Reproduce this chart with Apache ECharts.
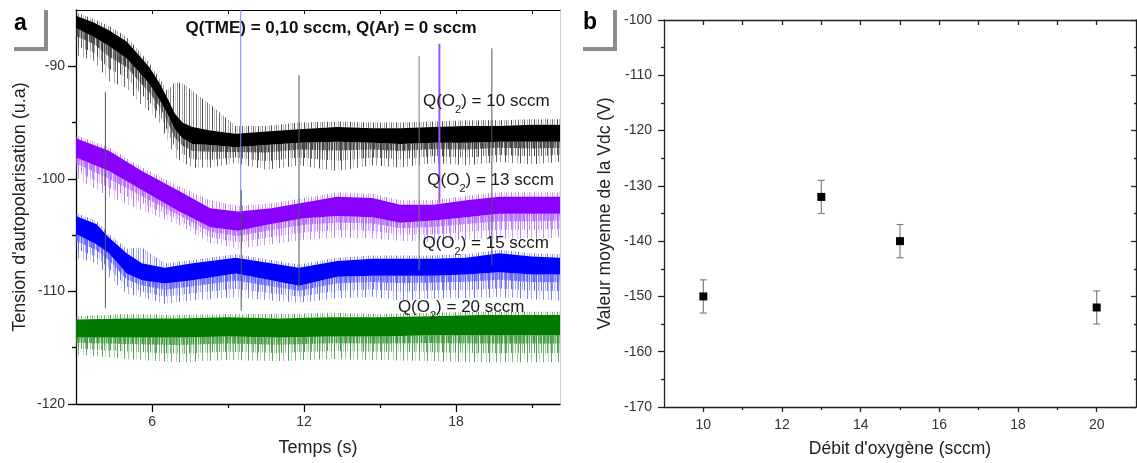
<!DOCTYPE html>
<html><head><meta charset="utf-8">
<script src="https://cdn.jsdelivr.net/npm/echarts@6/dist/echarts.min.js"></script>
<style>html,body{margin:0;padding:0;background:#fff}#c{width:1137px;height:463px}</style>
</head><body><div id="c"></div>
<script>
// ---------- Panel a : bias voltage vs time (envelopes) ----------
const tBlack   = [3.0, 3.7, 4.3, 5.0, 5.6, 5.9, 6.3, 6.6, 6.9, 7.2, 7.6, 8.3, 9.3, 10.5, 11.8, 13.3, 14.7, 15.8, 17.1, 18.4, 19.7, 21.0, 22.1];
const blackHi  = [-85.2, -85.8, -86.4, -87.4, -88.9, -89.7, -91.1, -92.2, -91.4, -91.5, -92.2, -93.4, -95.3, -95.3, -95.0, -94.9, -95.0, -95.0, -94.9, -94.8, -94.8, -94.7, -94.7];
const blackTop = [-85.5, -86.1, -86.8, -87.8, -89.3, -90.1, -91.5, -92.8, -94.2, -95.0, -95.4, -95.7, -96.0, -95.8, -95.6, -95.4, -95.5, -95.5, -95.4, -95.3, -95.3, -95.2, -95.2];
const blackBot = [-86.6, -87.4, -88.2, -89.3, -90.8, -91.6, -93.0, -94.2, -95.6, -96.4, -96.9, -97.0, -97.2, -97.0, -96.8, -96.7, -96.8, -96.9, -96.8, -96.8, -96.7, -96.7, -96.7];
const blackLow = [-89.0, -89.5, -91.3, -91.9, -93.5, -94.0, -95.0, -96.5, -98.1, -98.5, -99.0, -99.0, -98.6, -99.2, -98.8, -99.3, -98.8, -99.0, -98.6, -98.8, -98.5, -98.7, -98.5];

const tPurple   = [3.0, 4.3, 5.6, 7.0, 8.3, 9.4, 10.7, 12.0, 13.3, 14.7, 15.8, 17.1, 18.4, 19.7, 21.0, 22.1];
const purpleHi  = [-96.1, -97.2, -99.0, -100.6, -101.9, -102.4, -102.2, -101.7, -101.2, -101.3, -101.9, -101.9, -101.5, -101.2, -101.2, -101.2];
const purpleTop = [-96.4, -97.5, -99.3, -101.0, -102.6, -102.9, -102.6, -102.1, -101.6, -101.7, -102.3, -102.3, -101.9, -101.6, -101.6, -101.6];
const purpleBot = [-98.1, -99.3, -101.0, -102.8, -104.3, -104.6, -104.0, -103.5, -103.3, -103.4, -103.9, -103.7, -103.4, -103.1, -103.1, -103.1];
const purpleLow = [-99.9, -101.6, -102.8, -104.0, -105.7, -106.2, -105.8, -105.4, -105.2, -105.3, -105.5, -105.6, -105.4, -105.3, -105.3, -105.2];

const tBlue   = [3.0, 3.8, 4.3, 5.0, 5.6, 6.5, 7.6, 9.3, 10.7, 11.8, 13.3, 14.7, 15.8, 17.1, 18.4, 19.7, 21.0, 22.1];
const blueHi  = [-103.0, -103.7, -104.9, -106.2, -106.1, -107.5, -107.2, -106.7, -107.2, -107.6, -107.0, -106.8, -106.8, -106.8, -106.7, -106.3, -106.6, -106.7];
const blueTop = [-103.3, -104.0, -105.2, -106.6, -107.5, -107.9, -107.5, -107.0, -107.5, -107.9, -107.3, -107.1, -107.1, -107.1, -107.0, -106.6, -106.9, -107.0];
const blueBot = [-104.9, -105.8, -106.6, -108.4, -109.0, -109.3, -109.0, -108.4, -109.0, -109.5, -108.7, -108.6, -108.6, -108.6, -108.5, -108.3, -108.5, -108.5];
const blueLow = [-107.0, -107.5, -108.7, -110.2, -110.5, -111.1, -110.8, -110.5, -110.8, -111.0, -110.6, -110.5, -110.8, -110.6, -110.6, -110.5, -110.7, -110.8];

const tGreen   = [3, 5, 7, 9, 11, 13, 15, 17, 19, 21, 22.1];
const greenHi  = [-112.2, -112.0, -112.1, -112.0, -112.0, -111.9, -112.0, -111.9, -111.8, -111.8, -111.8];
const greenTop = [-112.5, -112.4, -112.4, -112.3, -112.4, -112.3, -112.3, -112.2, -112.1, -112.1, -112.1];
const greenBot = [-114.1, -114.1, -114.1, -114.0, -114.1, -114.0, -114.0, -113.9, -113.9, -113.9, -113.9];
const greenLow = [-115.6, -116.0, -116.3, -116.1, -116.2, -116.0, -116.1, -116.2, -116.3, -116.3, -116.3];

// vertical event markers (time, upper value, lower value)
const markT      = [4.16, 9.5, 9.52, 11.8, 16.54, 17.34, 19.41];
const markTop    = [-92.3, -85.0, -101.0, -90.8, -89.1, -88.0, -88.4];
const markBottom = [-111.5, -103.0, -111.7, -109.6, -108.1, -102.2, -107.7];

// trace labels
const labelFlow = ['10', '13', '15', '20'];
const labelT    = [19.19, 19.36, 19.17, 18.2];
const labelV    = [-93.1, -100.1, -105.7, -111.4];

const xTicksA = [6, 12, 18];
const xMinorA = [9, 15, 21];
const yTicksA = [-120, -110, -100, -90];
const yMinorA = [-115, -105, -95];

// ---------- Panel b : mean Vdc vs oxygen flow ----------
const flowRate = [10, 13, 15, 20];
const vdcMean  = [-150, -132, -140, -152];
const vdcErr   = [3, 3, 3, 3];

const xTicksB = [10, 12, 14, 16, 18, 20];
const xMinorB = [11, 13, 15, 17, 19];
const yTicksB = [-170, -160, -150, -140, -130, -120, -110, -100];
const yMinorB = [-165, -155, -145, -135, -125, -115, -105];

// ---------- styles ----------
const FONT = '"Liberation Sans", Arial, sans-serif';
const markColors = ['#555', '#7585ff', '#555', '#555', '#777', '#a050ff', '#555'];
const markWidths = [1, 1, 1, 1, 1, 2, 1];
// stripe textures (column opacities) used to render the noisy fringe of the traces
const outerStripes = [0.8, 0, 0, 0, 0.5, 0, 0, 0, 0, 0.9, 0, 0, 0.3, 0, 0, 0, 0.7, 0, 0, 0, 0, 0.4, 0, 0, 0.85, 0, 0, 0, 0.2, 0, 0];
const midStripes   = [0.7, 0, 0.4, 0, 0, 0.9, 0, 0.3, 0, 0.6, 0, 0, 0.8, 0, 0.2, 0, 0.5, 0, 0.9, 0, 0, 0.4, 0];
const innerStripes = [0.9, 0.4, 0.7, 0.2, 0.8, 0.5, 0.95, 0.3, 0.6, 0.85, 0.2, 0.7, 0.4, 0.9, 0.5, 0.3, 0.75];

function stripePattern(color, alphas) {
  const cv = document.createElement('canvas');
  cv.width = alphas.length; cv.height = 2;
  const ctx = cv.getContext('2d');
  ctx.fillStyle = color;
  alphas.forEach((a, i) => { ctx.globalAlpha = a; ctx.fillRect(i, 0, 1, 2); });
  return { image: cv, repeat: 'repeat' };
}

function traceSeries(t, hi, top, bot, low, core, light) {
  const pOuter = stripePattern(light, outerStripes);
  const pMid = stripePattern(light, midStripes);
  const pInner = stripePattern(light, innerStripes);
  return {
    type: 'custom', xAxisIndex: 0, yAxisIndex: 0, silent: true, clip: true, z: 2,
    data: t.map((x, i) => [x, top[i]]),
    renderItem: (params, api) => {
      if (params.dataIndex !== 0) return null;
      const P = (ys) => t.map((x, i) => api.coord([x, ys[i]]));
      const band = (a, b) => P(a).concat(P(b).reverse());
      const at = (f) => bot.map((v, i) => v + f * (low[i] - v));
      return { type: 'group', children: [
        { type: 'polygon', shape: { points: band(bot, low) }, style: { fill: pOuter } },
        { type: 'polygon', shape: { points: band(bot, at(0.65)) }, style: { fill: pMid } },
        { type: 'polygon', shape: { points: band(bot, at(0.3)) }, style: { fill: pInner } },
        { type: 'polygon', shape: { points: band(hi, top) }, style: { fill: pMid } },
        { type: 'polygon', shape: { points: band(top, bot) }, style: { fill: core } }
      ]};
    }
  };
}

const chart = echarts.init(document.getElementById('c'), null, { renderer: 'canvas' });
const axLabel = { fontSize: 14, color: '#333', fontFamily: FONT };
const nameStyle = { fontSize: 18, color: '#222', fontFamily: FONT };

chart.setOption({
  animation: false,
  backgroundColor: '#fff',
  grid: [
    { left: 76, top: 10, width: 484, height: 394 },
    { left: 664, top: 20, width: 472, height: 387 }
  ],
  xAxis: [
    { gridIndex: 0, type: 'value', min: 3, max: 22.1, position: 'bottom',
      axisLine: { onZero: false, lineStyle: { color: '#000', width: 1.3 } },
      axisTick: { customValues: xTicksA, length: 8, lineStyle: { color: '#000', width: 1.3 } },
      axisLabel: Object.assign({ customValues: xTicksA, margin: 11 }, axLabel),
      splitLine: { show: false },
      name: 'Temps (s)', nameLocation: 'middle', nameGap: 35, nameTextStyle: nameStyle },
    { gridIndex: 0, type: 'value', min: 3, max: 22.1, position: 'bottom',
      axisLine: { show: false },
      axisTick: { customValues: xMinorA, length: 4, lineStyle: { color: '#000', width: 1.3 } },
      axisLabel: { show: false }, splitLine: { show: false } },
    { gridIndex: 0, type: 'value', min: 3, max: 22.1, position: 'top',
      axisLine: { onZero: false, lineStyle: { color: '#000', width: 1 } },
      axisTick: { inside: true, customValues: xTicksA.concat(xMinorA), length: 4, lineStyle: { color: '#000' } },
      axisLabel: { show: false }, splitLine: { show: false } },
    { gridIndex: 1, type: 'value', min: 9, max: 21, position: 'bottom',
      axisLine: { onZero: false, lineStyle: { color: '#222', width: 1.3 } },
      axisTick: { customValues: xTicksB, length: 5, lineStyle: { color: '#222', width: 1.3 } },
      axisLabel: Object.assign({ customValues: xTicksB, margin: 11 }, axLabel),
      splitLine: { show: false },
      name: "Débit d'oxygène (sccm)", nameLocation: 'middle', nameGap: 33,
      nameTextStyle: Object.assign({}, nameStyle, { fontSize: 17.5 }) },
    { gridIndex: 1, type: 'value', min: 9, max: 21, position: 'bottom',
      axisLine: { show: false },
      axisTick: { customValues: xMinorB, length: 3, lineStyle: { color: '#222', width: 1.3 } },
      axisLabel: { show: false }, splitLine: { show: false } },
    { gridIndex: 1, type: 'value', min: 9, max: 21, position: 'top',
      axisLine: { onZero: false, lineStyle: { color: '#222', width: 1.3 } },
      axisTick: { inside: true, customValues: xTicksB.concat(xMinorB), length: 5, lineStyle: { color: '#222', width: 1.3 } },
      axisLabel: { show: false }, splitLine: { show: false } }
  ],
  yAxis: [
    { gridIndex: 0, type: 'value', min: -120, max: -85, position: 'left',
      axisLine: { onZero: false, lineStyle: { color: '#000', width: 1.3 } },
      axisTick: { customValues: yTicksA, length: 8, lineStyle: { color: '#000', width: 1.3 } },
      axisLabel: Object.assign({ customValues: yTicksA, margin: 11 }, axLabel),
      splitLine: { show: false },
      name: "Tension d'autopolarisation (u.a)", nameLocation: 'middle', nameGap: 47, nameTextStyle: nameStyle },
    { gridIndex: 0, type: 'value', min: -120, max: -85, position: 'left',
      axisLine: { show: false },
      axisTick: { customValues: yMinorA, length: 4, lineStyle: { color: '#000', width: 1.3 } },
      axisLabel: { show: false }, splitLine: { show: false } },
    { gridIndex: 0, type: 'value', min: -120, max: -85, position: 'right',
      axisLine: { onZero: false, lineStyle: { color: '#d0d0d0', width: 1 } },
      axisTick: { show: false }, axisLabel: { show: false }, splitLine: { show: false } },
    { gridIndex: 1, type: 'value', min: -170, max: -100, position: 'left',
      axisLine: { onZero: false, lineStyle: { color: '#222', width: 1.3 } },
      axisTick: { customValues: yTicksB, length: 6, lineStyle: { color: '#222', width: 1.3 } },
      axisLabel: Object.assign({ customValues: yTicksB, margin: 12 }, axLabel),
      splitLine: { show: false },
      name: 'Valeur moyenne de la Vdc (V)', nameLocation: 'middle', nameGap: 50,
      nameTextStyle: Object.assign({}, nameStyle, { fontSize: 17.5 }) },
    { gridIndex: 1, type: 'value', min: -170, max: -100, position: 'left',
      axisLine: { show: false },
      axisTick: { customValues: yMinorB, length: 3, lineStyle: { color: '#222', width: 1.3 } },
      axisLabel: { show: false }, splitLine: { show: false } },
    { gridIndex: 1, type: 'value', min: -170, max: -100, position: 'right',
      axisLine: { onZero: false, lineStyle: { color: '#222', width: 1.3 } },
      axisTick: { inside: true, customValues: yTicksB, length: 5, lineStyle: { color: '#222', width: 1.3 } },
      axisLabel: { show: false }, splitLine: { show: false } },
    { gridIndex: 1, type: 'value', min: -170, max: -100, position: 'right',
      axisLine: { show: false },
      axisTick: { inside: true, customValues: yMinorB, length: 2, lineStyle: { color: '#222', width: 1.3 } },
      axisLabel: { show: false }, splitLine: { show: false } }
  ],
  graphic: [
    { type: 'text', left: 14, top: 12, style: { text: 'a', font: 'bold 23px ' + FONT, fill: '#000' } },
    { type: 'polyline', shape: { points: [[14, 49], [46, 49], [46, 10]] }, style: { stroke: '#8c8c8c', lineWidth: 4, fill: null } },
    { type: 'text', left: 583, top: 11, style: { text: 'b', font: 'bold 23px ' + FONT, fill: '#000' } },
    { type: 'polyline', shape: { points: [[583, 49], [615, 49], [615, 10]] }, style: { stroke: '#8c8c8c', lineWidth: 4, fill: null } },
    { type: 'text', x: 331, y: 28, style: { text: 'Q(TME) = 0,10 sccm, Q(Ar) = 0 sccm', font: 'bold 17px ' + FONT, fill: '#111', align: 'center', verticalAlign: 'middle' } }
  ],
  series: [
    traceSeries(tBlack, blackHi, blackTop, blackBot, blackLow, '#000000', '#3a3a3a'),
    traceSeries(tPurple, purpleHi, purpleTop, purpleBot, purpleLow, '#8a00ff', '#b066ff'),
    traceSeries(tBlue, blueHi, blueTop, blueBot, blueLow, '#0000ff', '#5c5cff'),
    traceSeries(tGreen, greenHi, greenTop, greenBot, greenLow, '#007a00', '#3d963d'),
    { type: 'custom', xAxisIndex: 0, yAxisIndex: 0, silent: true, z: 4,
      data: markT.map((t, i) => [t, markTop[i], markBottom[i]]),
      renderItem: (params, api) => {
        const a = api.coord([api.value(0), api.value(1)]);
        const b = api.coord([api.value(0), api.value(2)]);
        return { type: 'line', shape: { x1: a[0], y1: a[1], x2: b[0], y2: b[1] },
          style: { stroke: markColors[params.dataIndex], lineWidth: markWidths[params.dataIndex] } };
      } },
    { type: 'scatter', xAxisIndex: 0, yAxisIndex: 0, silent: true, z: 6, symbolSize: 0,
      itemStyle: { opacity: 1 },
      data: labelT.map((t, i) => [t, labelV[i]]),
      label: { show: true, position: 'inside', opacity: 1,
        formatter: (p) => '{a|Q(O}{s|2}{a|) = ' + labelFlow[p.dataIndex] + ' sccm}',
        rich: {
          a: { fontSize: 17, color: '#1a1a1a', fontFamily: FONT, lineHeight: 28 },
          s: { fontSize: 11, color: '#1a1a1a', fontFamily: FONT, lineHeight: 12, verticalAlign: 'bottom' }
        } } },
    { type: 'custom', xAxisIndex: 3, yAxisIndex: 3, silent: true, z: 3,
      data: flowRate.map((x, i) => [x, vdcMean[i] + vdcErr[i], vdcMean[i] - vdcErr[i]]),
      renderItem: (params, api) => {
        const a = api.coord([api.value(0), api.value(1)]);
        const b = api.coord([api.value(0), api.value(2)]);
        const st = { stroke: '#808080', lineWidth: 1.2 };
        return { type: 'group', children: [
          { type: 'line', shape: { x1: a[0], y1: a[1], x2: b[0], y2: b[1] }, style: st },
          { type: 'line', shape: { x1: a[0] - 3.5, y1: a[1], x2: a[0] + 3.5, y2: a[1] }, style: st },
          { type: 'line', shape: { x1: b[0] - 3.5, y1: b[1], x2: b[0] + 3.5, y2: b[1] }, style: st }
        ]};
      } },
    { type: 'scatter', xAxisIndex: 3, yAxisIndex: 3, silent: true, z: 5,
      symbol: 'rect', symbolSize: 8, itemStyle: { color: '#000', opacity: 1 },
      data: flowRate.map((x, i) => [x, vdcMean[i]]) }
  ]
});
</script></body></html>
